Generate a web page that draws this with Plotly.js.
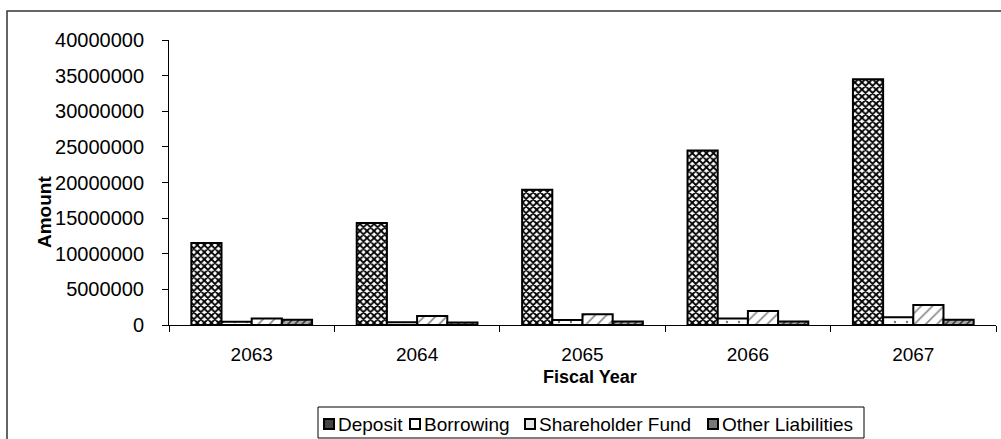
<!DOCTYPE html>
<html>
<head>
<meta charset="utf-8">
<script src="https://cdn.plot.ly/plotly-3.0.1.min.js"></script>
<style>html,body{margin:0;padding:0;background:#fff;}#chart{width:1001px;height:439px;}</style>
</head>
<body>
<div id="chart"></div>
<script>
const years = ["2063", "2064", "2065", "2066", "2067"];
const deposit = [11500000, 14300000, 19000000, 24500000, 34500000];
const borrowing = [450000, 400000, 700000, 900000, 1100000];
const shareholderFund = [900000, 1250000, 1500000, 1950000, 2800000];
const otherLiabilities = [750000, 350000, 500000, 500000, 750000];
const seriesNames = ["Deposit", "Borrowing", "Shareholder Fund", "Other Liabilities"];
const yTicks = [0, 5000000, 10000000, 15000000, 20000000, 25000000, 30000000, 35000000, 40000000];

const FONT = "Liberation Sans, Arial, sans-serif";
const W = 1001, H = 439, ML = 169, MR = 5, MT = 40, MB = 114;
const PW = W - ML - MR, PH = H - MT - MB;
const px = x => (x - ML) / PW;          // pixel -> paper x
const py = y => (H - MB - y) / PH;      // pixel -> paper y

const line = {color: "#000", width: 2};
const patterns = [
  {shape: "x", fgcolor: "#000", bgcolor: "#fff", size: 5, solidity: 0.6},
  {shape: ".", fgcolor: "#777", bgcolor: "#fff", size: 12, solidity: 0.03},
  {shape: "/", fgcolor: "#888", bgcolor: "#fff", size: 8, solidity: 0.2},
  {shape: "/", fgcolor: "#333", bgcolor: "#aaa", size: 5, solidity: 0.3}
];
const values = [deposit, borrowing, shareholderFund, otherLiabilities];

const traces = values.map((v, i) => ({
  type: "bar", x: years, y: v, name: seriesNames[i],
  marker: {color: "#fff", line: line, pattern: patterns[i]},
  showlegend: false
}));

// custom legend (Excel-style compact legend)
const legendIconX = [324, 410, 525, 708];
const legendIconFill = ["#444", "#fff", "#e6e6e6", "#777"];
const shapes = [
  {type: "rect", xref: "paper", yref: "paper",
   x0: px(7), x1: 1.2, y0: -0.8, y1: py(11),
   line: {color: "#333", width: 1.5}, fillcolor: "rgba(0,0,0,0)", layer: "below"},
  {type: "rect", xref: "paper", yref: "paper",
   x0: px(318), x1: px(864), y0: py(438), y1: py(407),
   line: {color: "#000", width: 1}, fillcolor: "#fff", layer: "below"}
];
const annotations = [
  {text: "<b>Amount</b>", xref: "paper", yref: "paper", x: px(44), y: py(212),
   textangle: -90, showarrow: false, font: {family: FONT, size: 19, color: "#000"},
   xanchor: "center", yanchor: "middle"},
  {text: "<b>Fiscal Year</b>", xref: "paper", yref: "paper", x: px(590), y: py(377),
   showarrow: false, font: {family: FONT, size: 18, color: "#000"},
   xanchor: "center", yanchor: "middle"}
];
seriesNames.forEach((n, i) => {
  const x0 = legendIconX[i];
  shapes.push({type: "rect", xref: "paper", yref: "paper",
    x0: px(x0), x1: px(x0 + 10), y0: py(429), y1: py(419),
    line: {color: "#000", width: 2}, fillcolor: legendIconFill[i]});
  annotations.push({text: n, xref: "paper", yref: "paper",
    x: px(x0 + 12), y: py(424), xanchor: "left", yanchor: "middle",
    showarrow: false, font: {family: FONT, size: 19, color: "#000"}});
});

const layout = {
  width: W, height: H,
  margin: {l: ML, r: MR, t: MT, b: MB, pad: 0, autoexpand: false},
  paper_bgcolor: "#fff", plot_bgcolor: "#fff",
  font: {family: FONT, size: 19, color: "#000"},
  barmode: "group", bargap: 0.27, bargroupgap: 0,
  showlegend: false,
  xaxis: {
    type: "category", showline: true, linecolor: "#000", linewidth: 1,
    ticks: "outside", tickson: "boundaries", ticklen: 6, tickcolor: "#000",
    showgrid: false, zeroline: false,
    tickfont: {family: FONT, size: 19, color: "#000"},
    ticklabelstandoff: 12
  },
  yaxis: {
    range: [0, 40000000], tickvals: yTicks, ticktext: yTicks.map(String),
    showline: true, linecolor: "#000", linewidth: 1,
    ticks: "outside", ticklen: 6, tickcolor: "#000",
    showgrid: false, zeroline: false,
    tickfont: {family: FONT, size: 20, color: "#000"},
    ticklabelstandoff: 14
  },
  annotations: annotations,
  shapes: shapes
};

Plotly.newPlot("chart", traces, layout, {displayModeBar: false, staticPlot: true});
</script>
</body>
</html>
